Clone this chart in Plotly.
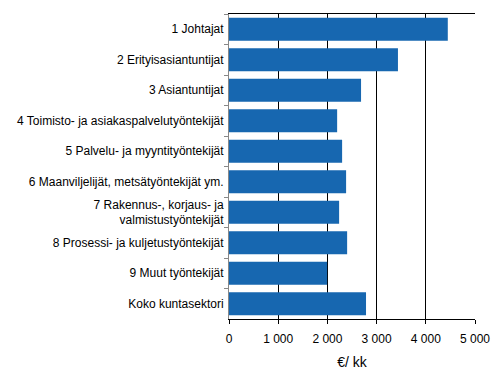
import plotly.graph_objects as go

categories = [
    "1 Johtajat",
    "2 Erityisasiantuntijat",
    "3 Asiantuntijat",
    "4 Toimisto- ja asiakaspalvelutyöntekijät",
    "5 Palvelu- ja myyntityöntekijät",
    "6 Maanviljelijät, metsätyöntekijät ym.",
    "7 Rakennus-, korjaus- ja<br>valmistustyöntekijät",
    "8 Prosessi- ja kuljetustyöntekijät",
    "9 Muut työntekijät",
    "Koko kuntasektori",
]
values = [4447, 3434, 2684, 2198, 2299, 2380, 2238, 2401, 1995, 2785]
x_ticks = [0, 1000, 2000, 3000, 4000, 5000]
x_tick_labels = ["0", "1 000", "2 000", "3 000", "4 000", "5 000"]

fig = go.Figure(go.Bar(
    y=categories,
    x=values,
    orientation="h",
    marker=dict(color="#1767B0", line=dict(width=0)),
))

fig.update_layout(
    width=500, height=383,
    margin=dict(l=229, r=25, t=14, b=64, autoexpand=False),
    paper_bgcolor="white", plot_bgcolor="white",
    font=dict(family="Liberation Sans, Arial, sans-serif", size=12, color="black"),
    bargap=0.24,
    showlegend=False,
)
fig.update_xaxes(
    range=[0, 5000],
    tickvals=x_ticks, ticktext=x_tick_labels,
    showgrid=True, gridcolor="black", gridwidth=1,
    zeroline=False,
    showline=True, linecolor="black", linewidth=1, mirror=True,
    ticks="outside", ticklen=4, tickcolor="black",
    ticklabelstandoff=5,
    title=dict(text="€/ kk", standoff=11),
    automargin=False,
)
fig.update_yaxes(
    autorange="reversed",
    showline=True, linecolor="#888888", linewidth=1,
    ticks="outside", ticklen=4, tickcolor="#888888", tickson="boundaries",
    showgrid=False, zeroline=False,
    ticklabelstandoff=2,
    automargin=False,
)
fig.write_html("out.html", config={"displayModeBar": False},
               post_script="document.body.style.margin='0';")
